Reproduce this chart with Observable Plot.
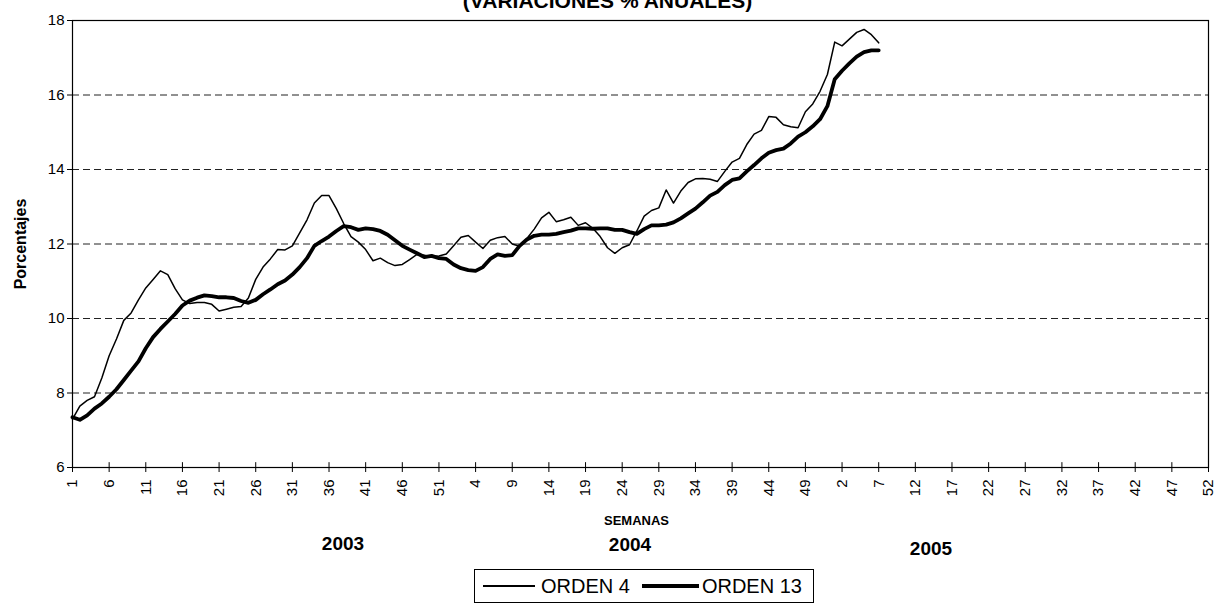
<!DOCTYPE html>
<html>
<head>
<meta charset="utf-8">
<script src="https://cdn.jsdelivr.net/npm/d3@7"></script>
<script src="https://cdn.jsdelivr.net/npm/@observablehq/plot@0.6"></script>
<style>
  body { margin: 0; background: #fff; font-family: "Liberation Sans", Arial, sans-serif; }
  #wrap { position: relative; width: 1215px; height: 604px; overflow: hidden; background: #fff; }
  .abs { position: absolute; white-space: nowrap; color: #000; }
  #title { left: 0; width: 1215px; text-align: center; top: -10px; font-weight: bold; font-size: 21px; line-height: 21px; }
  .year { font-weight: bold; font-size: 19px; line-height: 19px; transform: translate(-50%, -50%); }
  #legend { border: 1px solid #000; display: flex; align-items: center; font-size: 20px; box-sizing: border-box; }
  .sw { display: inline-block; background: #000; }
</style>
</head>
<body>
<div id="wrap">
  <div id="chart" class="abs" style="left:0;top:0"></div>
  <div id="title" class="abs">(VARIACIONES % ANUALES)</div>
  <div class="abs year" style="left:343px;top:543px">2003</div>
  <div class="abs year" style="left:630px;top:544px">2004</div>
  <div class="abs year" style="left:931px;top:548px">2005</div>
  <div id="legend" class="abs" style="left:474px;top:569px;width:340px;height:34px;">
    <span class="sw" style="width:52px;height:1.5px;margin-left:8px;margin-right:6px"></span><span>ORDEN 4</span>
    <span class="sw" style="width:57px;height:4px;margin-left:12px;margin-right:3px"></span><span>ORDEN 13</span>
  </div>
</div>
<script>
// ---- data (weekly annual % variation) ----
const orden4_2003 = [
  7.3, 7.65, 7.8, 7.9, 8.4, 9.0, 9.45, 9.95, 10.15, 10.5,
  10.82, 11.05, 11.28, 11.18, 10.8, 10.5, 10.4, 10.43, 10.43, 10.38,
  10.2, 10.25, 10.3, 10.32, 10.55, 11.05, 11.38, 11.6, 11.85, 11.84,
  11.95, 12.3, 12.65, 13.1, 13.3, 13.3, 12.95, 12.55, 12.2, 12.05,
  11.85, 11.55, 11.62, 11.5, 11.42, 11.45, 11.58, 11.72, 11.7, 11.66,
  11.68, 11.73
];
const orden4_2004 = [
  11.95, 12.18, 12.23, 12.05, 11.88, 12.1, 12.17, 12.2, 12.0, 11.94,
  12.15, 12.4, 12.7, 12.85, 12.6, 12.65, 12.72, 12.5, 12.57, 12.42,
  12.2, 11.9, 11.75, 11.9, 11.98, 12.35, 12.75, 12.9, 12.97, 13.45,
  13.1, 13.42, 13.65, 13.75, 13.76, 13.74, 13.68, 13.95, 14.2, 14.3,
  14.67, 14.95, 15.05, 15.42, 15.4, 15.2, 15.15, 15.12, 15.55, 15.76,
  16.1, 16.55
];
const orden4_2005 = [17.42, 17.32, 17.5, 17.68, 17.76, 17.62, 17.4];

const orden13_2003 = [
  7.35, 7.28, 7.4, 7.58, 7.72, 7.9, 8.1, 8.35, 8.6, 8.85,
  9.2, 9.5, 9.72, 9.92, 10.12, 10.35, 10.48, 10.56, 10.62, 10.6,
  10.57, 10.57, 10.55, 10.47, 10.42, 10.5, 10.65, 10.78, 10.92, 11.02,
  11.18, 11.38, 11.62, 11.95, 12.08, 12.2, 12.35, 12.48, 12.45, 12.38,
  12.42, 12.4, 12.35, 12.25, 12.1, 11.95, 11.85, 11.75, 11.65, 11.68,
  11.62, 11.6
];
const orden13_2004 = [
  11.45, 11.35, 11.3, 11.28, 11.38, 11.6, 11.72, 11.68, 11.7, 11.95,
  12.12, 12.22, 12.25, 12.25, 12.27, 12.32, 12.36, 12.42, 12.42, 12.41,
  12.42, 12.42, 12.38, 12.38, 12.32, 12.27, 12.4, 12.5, 12.5, 12.52,
  12.58, 12.69, 12.82, 12.95, 13.12, 13.3, 13.4, 13.58, 13.72, 13.76,
  13.95, 14.12, 14.3, 14.45, 14.52, 14.56, 14.7, 14.88, 15.0, 15.16,
  15.35, 15.7
];
const orden13_2005 = [16.42, 16.65, 16.85, 17.03, 17.15, 17.2, 17.2];

const weeksPerYear = 52;
const years = [2003, 2004, 2005];
const xTicks = [1, 6, 11, 16, 21, 26, 31, 36, 41, 46, 51, 56, 61, 66, 71, 76, 81, 86, 91, 96, 101,
                106, 111, 116, 121, 126, 131, 136, 141, 146, 151, 156];
const xTickLabels = ["1","6","11","16","21","26","31","36","41","46","51","4","9","14","19","24","29","34","39","44","49",
                     "2","7","12","17","22","27","32","37","42","47","52"];
const yTicks = [6, 8, 10, 12, 14, 16, 18];
const yGrid = [8, 10, 12, 14, 16];

// ---- build table ----
function rowsFor(serie, parts) {
  const out = [];
  parts.forEach((arr, yi) => arr.forEach((v, k) => out.push({serie, idx: yi * weeksPerYear + k + 1, value: v})));
  return out;
}
const thin = rowsFor("ORDEN 4", [orden4_2003, orden4_2004, orden4_2005]);
const thick = rowsFor("ORDEN 13", [orden13_2003, orden13_2004, orden13_2005]);
const labelMap = new Map(xTicks.map((t, i) => [t, xTickLabels[i]]));

const H = 535;
const chart = Plot.plot({
  width: 1215,
  height: H,
  marginLeft: 72,
  marginRight: 7,
  marginTop: 20,
  marginBottom: H - 467,
  x: {domain: [1, 156]},
  y: {domain: [6, 18]},
  style: {fontFamily: "'Liberation Sans', Arial, sans-serif", fontSize: "15px", color: "#000", background: "#fff"},
  marks: [
    Plot.gridY(yGrid, {stroke: "#222", strokeOpacity: 1, strokeWidth: 1, strokeDasharray: "7,4"}),
    Plot.frame({stroke: "#000", strokeWidth: 1.2}),
    Plot.axisY(yTicks, {tickSize: 5, tickPadding: 3, label: null, fontSize: 15}),
    Plot.axisX(xTicks, {tickFormat: d => labelMap.get(d), tickRotate: -90, tickSize: 5, tickPadding: 7, label: null, fontSize: 15}),
    Plot.ruleX(xTicks, {x: d => d, y1: 6, y2: 6.13, stroke: "#000"}),
    Plot.text(["Porcentajes"], {frameAnchor: "left", textAnchor: "middle", rotate: -90, dx: -52, fontWeight: "bold", fontSize: 16}),
    Plot.text(["SEMANAS"], {frameAnchor: "bottom", textAnchor: "middle", dy: 57, dx: -4, fontWeight: "bold", fontSize: 13}),
    Plot.line(thin, {x: "idx", y: "value", stroke: "#000", strokeWidth: 1.5, curve: "linear"}),
    Plot.line(thick, {x: "idx", y: "value", stroke: "#000", strokeWidth: 3.8, curve: "linear", strokeLinejoin: "round"})
  ]
});
document.getElementById("chart").appendChild(chart);
</script>
</body>
</html>
